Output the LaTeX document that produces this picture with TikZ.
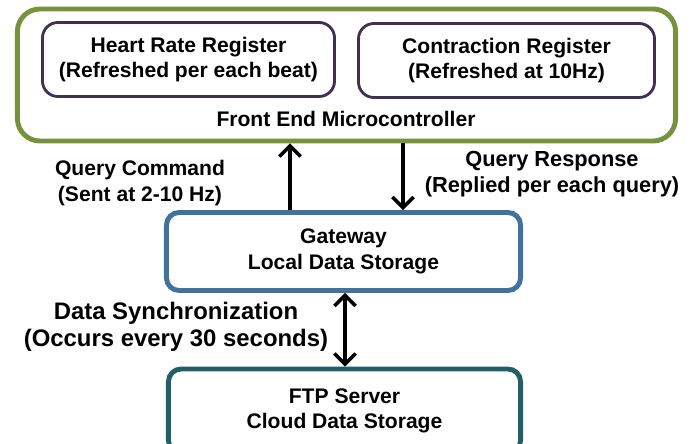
\documentclass[tikz,border=0pt]{standalone}
\usepackage{fontspec}
\setmainfont{Liberation Sans}
\usetikzlibrary{arrows.meta}
\definecolor{feGreen}{RGB}{118,146,60}
\definecolor{regPurple}{RGB}{64,49,82}
\definecolor{gwBlue}{RGB}{65,113,156}
\definecolor{ftpTeal}{RGB}{35,94,105}
\tikzset{
  box/.style={draw, fill=white, align=center, font=\bfseries\fontsize{15}{18}\selectfont},
  lbl/.style={align=center, font=\bfseries\fontsize{15}{18}\selectfont},
  barb/.tip={Straight Barb[length=7.5pt,width=15pt,line width=2.5pt]},
  link/.style={line width=3pt, -barb},
}
\begin{document}
\begin{tikzpicture}
[x=0.025cm, y=-0.025cm]
\useasboundingbox (0,0) rectangle (695,444);
  % front end
  \node [box, draw=feGreen, line width=3.5pt, rounded corners=16pt,
    minimum width=16.45cm, minimum height=3.3cm] (fe) at (346.5,75) {};
  \node [box, draw=regPurple, line width=2pt, rounded corners=11pt,
    minimum width=7.3cm, minimum height=1.85cm] (hr) at (188.5,59.5)
    {Heart Rate Register\\(Refreshed per each beat)};
  \node [box, draw=regPurple, line width=2pt, rounded corners=11pt,
    minimum width=7.4cm, minimum height=1.85cm] (cr) at (506.5,60.5)
    {Contraction Register\\(Refreshed at 10Hz)};
  \node [lbl] (fename) at (346,119) {Front End Microcontroller};
  % gateway and server
  \node [box, draw=gwBlue, line width=3.5pt, rounded corners=9pt,
    minimum width=8.85cm, minimum height=1.95cm] (gw) at (343.5,251.5)
    {Gateway\\Local Data Storage};
  \node [box, draw=ftpTeal, line width=3.5pt, rounded corners=9pt,
    minimum width=8.8cm, minimum height=2.1cm] (ftp) at (344.5,411)
    {FTP Server\\Cloud Data Storage};
  % links
  \coordinate (cq) at (290,0);
  \coordinate (rq) at (403,0);
  \coordinate (sy) at (345,0);
  \draw [link] (gw.north -| cq) -- (fe.south -| cq);
  \draw [link] (fe.south -| rq) -- (gw.north -| rq);
  \draw [link, barb-barb] (gw.south -| sy) -- (ftp.north -| sy);
  \node [lbl] (qc) at (140,183) {Query Command\\(Sent at 2-10 Hz)};
  \node [lbl, font=\bfseries\fontsize{15.5}{18.5}\selectfont] (qr) at (552,174) {Query Response\\(Replied per each query)};
  \node [lbl, font=\bfseries\fontsize{17}{19.5}\selectfont] (ds) at (176,327) {Data Synchronization\\(Occurs every 30 seconds)};
\end{tikzpicture}
\end{document}
